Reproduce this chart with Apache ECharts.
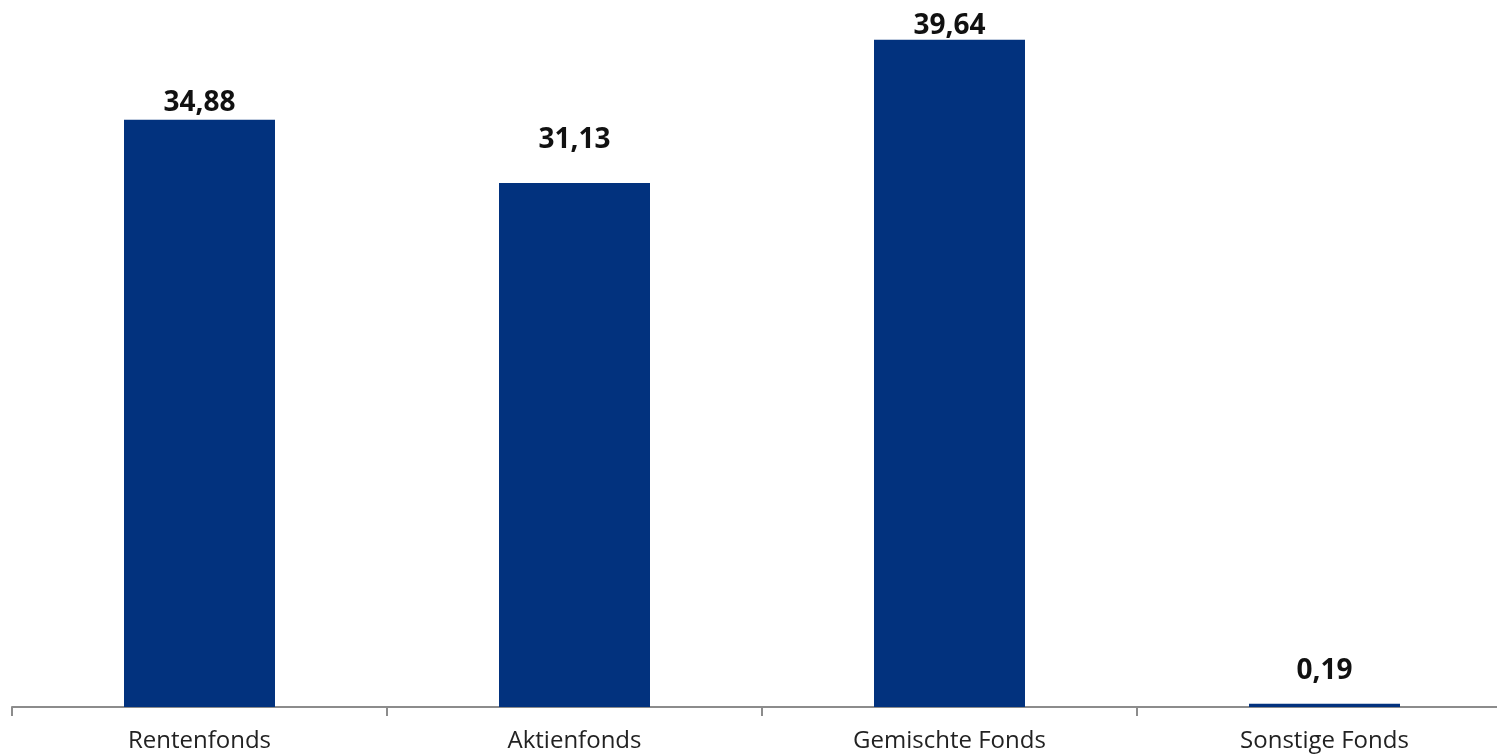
<!DOCTYPE html>
<html>
<head>
<meta charset="utf-8">
<script src="https://cdn.jsdelivr.net/npm/echarts@6/dist/echarts.min.js"></script>
<style>
html,body{margin:0;padding:0;background:#fff;overflow:hidden;width:1497px;height:755px;}
#chart{width:1512px;height:755px;}
</style>
</head>
<body>
<div id="chart"></div>
<script>
var categories = ['Rentenfonds', 'Aktienfonds', 'Gemischte Fonds', 'Sonstige Fonds'];
var values = [34.88, 31.13, 39.64, 0.19];

var labelGaps = [3, 29, 0, 19];

var chart = echarts.init(document.getElementById('chart'));
chart.setOption({
  animation: false,
  grid: { left: 12, top: 0, bottom: 48, right: 0, containLabel: false },
  xAxis: {
    type: 'category',
    data: categories,
    axisLine: { lineStyle: { color: '#8c8c8c', width: 2 } },
    axisTick: { show: true, length: 9, lineStyle: { color: '#8c8c8c', width: 2 } },
    axisLabel: { color: '#222', fontFamily: 'Open Sans', fontSize: 24, margin: 22 }
  },
  yAxis: {
    type: 'value', min: 0, max: 42,
    show: false, splitLine: { show: false }
  },
  series: [{
    type: 'bar',
    barWidth: 151,
    data: values.map(function (v, i) {
      return { value: v, label: { distance: labelGaps[i] } };
    }),
    itemStyle: { color: '#02327e' },
    label: {
      show: true, position: 'top',
      color: '#111', fontFamily: 'Open Sans', fontWeight: 'bold', fontSize: 28,
      formatter: function (p) { return p.value.toFixed(2).replace('.', ','); }
    }
  }]
});
</script>
</body>
</html>
